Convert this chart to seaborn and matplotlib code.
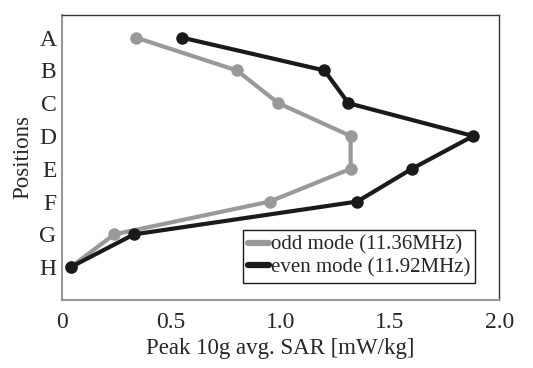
import pandas as pd
import matplotlib.pyplot as plt
import seaborn as sns
from matplotlib.lines import Line2D

# Data
positions = ["A", "B", "C", "D", "E", "F", "G", "H"]
odd_sar = [0.34, 0.80, 0.99, 1.32, 1.32, 0.95, 0.24, 0.04]
even_sar = [0.55, 1.20, 1.31, 1.88, 1.60, 1.35, 0.33, 0.04]
modes = ["odd mode (11.36MHz)", "even mode (11.92MHz)"]
colors = {modes[0]: "#999999", modes[1]: "#1a1a1a"}

df = pd.DataFrame({
    "Position": positions * 2,
    "SAR": odd_sar + even_sar,
    "Mode": [modes[0]] * len(positions) + [modes[1]] * len(positions),
})

sns.set_style("white")
plt.rcParams["font.family"] = ["Liberation Serif", "DejaVu Serif"]

fig, ax = plt.subplots(figsize=(5.33, 3.68), dpi=100)
sns.lineplot(data=df, x="SAR", y="Position", hue="Mode", palette=colors,
             sort=False, orient="y", marker="o", markersize=9,
             markeredgewidth=0, linewidth=3, estimator=None, ax=ax,
             legend=False)

ax.set_xlim(0, 2.0)
ax.set_ylim(len(positions), -0.7)
ax.set_xticks([0, 0.5, 1.0, 1.5, 2.0])
ax.set_xticklabels(["0", "0.5", "1.0", "1.5", "2.0"])
ax.set_xlabel("Peak 10g avg. SAR [mW/kg]", fontsize=16.5, labelpad=3)
ax.set_ylabel("Positions", fontsize=16.5, labelpad=4)
ax.tick_params(axis="both", direction="in", length=5, width=1,
               color="#999999", labelsize=17)
ax.tick_params(axis="x", pad=9)
ax.tick_params(axis="y", pad=4)

for side in ["left", "bottom"]:
    ax.spines[side].set_color("#999999")
    ax.spines[side].set_linewidth(1.5)
for side in ["top", "right"]:
    ax.spines[side].set_color("#333333")
    ax.spines[side].set_linewidth(1.0)

handles = [Line2D([], [], color=colors[m], linewidth=4.5) for m in modes]
leg = ax.legend(handles, modes, loc="lower right", fontsize=15,
                fancybox=False, framealpha=1, edgecolor="#1a1a1a",
                handlelength=1.0, handletextpad=0.1, borderpad=0.25,
                labelspacing=0.15, borderaxespad=0,
                bbox_to_anchor=(0.945, 0.06))
leg.get_frame().set_linewidth(1.0)

fig.subplots_adjust(left=0.116, right=0.937, top=0.96, bottom=0.185)
fig.savefig("out.png", dpi=100)
